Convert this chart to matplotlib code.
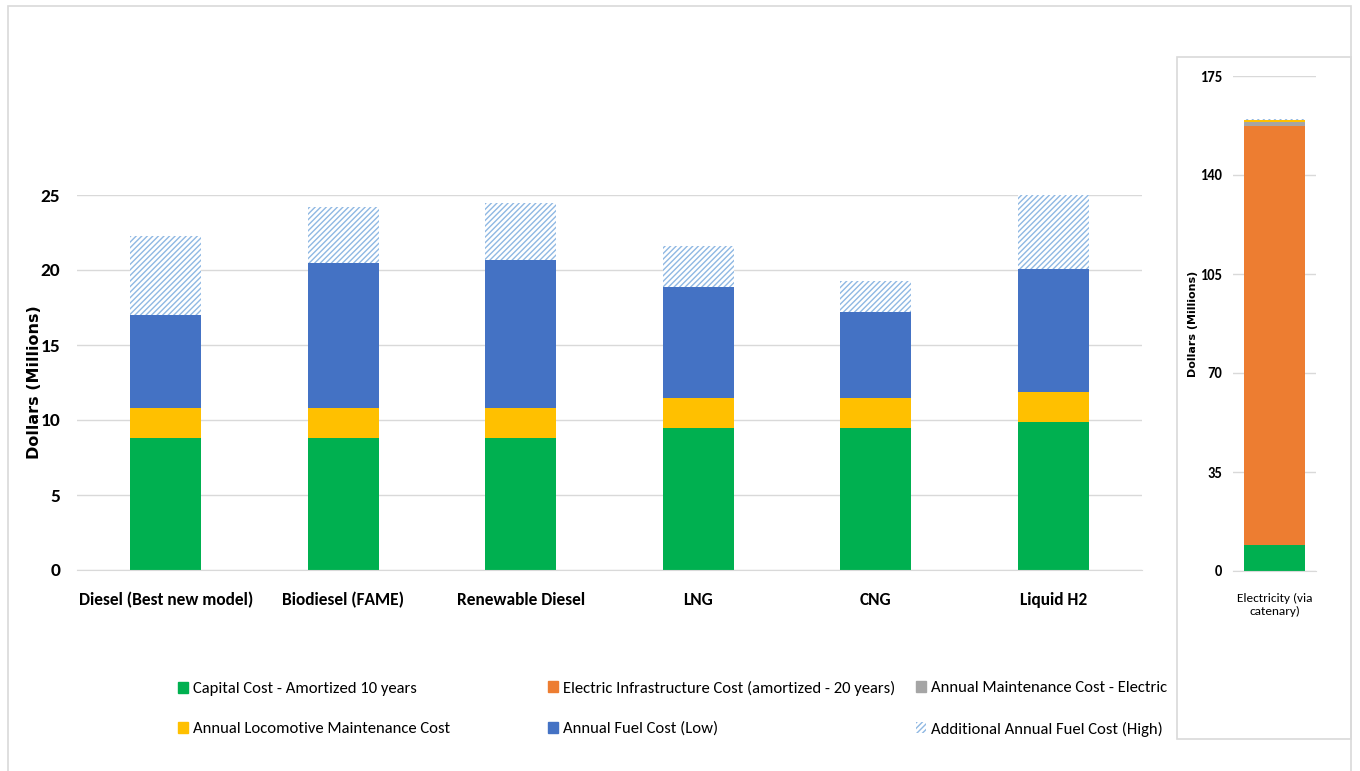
import matplotlib
matplotlib.use('agg')
import matplotlib.pyplot as plt
from matplotlib.patches import Rectangle, Patch
import numpy as np

plt.rcParams['font.family'] = ['Carlito', 'DejaVu Sans']
plt.rcParams['hatch.linewidth'] = 1.0

# technology options (last one goes on its own panel)
fuels = ['Diesel (Best new model)', 'Biodiesel (FAME)', 'Renewable Diesel',
         'LNG', 'CNG', 'Liquid H2', 'Electricity (via\ncatenary)']

# cost components, $ millions
capital = [8.8, 8.8, 8.8, 9.5, 9.5, 9.9, 9.3]
elec_infra = [0, 0, 0, 0, 0, 0, 148.1]
elec_maint = [0, 0, 0, 0, 0, 0, 1.3]
loco_maint = [2.0, 2.0, 2.0, 2.0, 2.0, 2.0, 0.8]
fuel_low = [6.2, 9.7, 9.9, 7.4, 5.7, 8.2, 0]
fuel_high_extra = [5.3, 3.7, 3.8, 2.7, 2.1, 4.9, 0.4]

main_ticks = [0, 5, 10, 15, 20, 25]
side_ticks = [0, 35, 70, 105, 140, 175]

series = [
    ('Capital Cost - Amortized 10 years', capital, dict(color='#00B050')),
    ('Electric Infrastructure Cost (amortized - 20 years)', elec_infra, dict(color='#ED7D31')),
    ('Annual Maintenance Cost - Electric', elec_maint, dict(color='#A5A5A5')),
    ('Annual Locomotive Maintenance Cost', loco_maint, dict(color='#FFC000')),
    ('Annual Fuel Cost (Low)', fuel_low, dict(color='#4472C4')),
    ('Additional Annual Fuel Cost (High)', fuel_high_extra,
     dict(facecolor='white', edgecolor='#8FB8E3', hatch='//////', linewidth=0)),
]

W, H = 1360, 771
fig = plt.figure(figsize=(W / 100, H / 100), dpi=100)

def fx(px):
    return px / W

def fy(py):
    return 1 - py / H

# chart borders
fig.patches.append(Rectangle((fx(8), fy(780)), fx(1351) - fx(8), fy(6) - fy(780),
                             transform=fig.transFigure, fill=False,
                             edgecolor='#D9D9D9', linewidth=1.2))
fig.patches.append(Rectangle((fx(1177), fy(739)), fx(1351) - fx(1177), fy(57) - fy(739),
                             transform=fig.transFigure, fill=False,
                             edgecolor='#D9D9D9', linewidth=1.2))

ax = fig.add_axes([fx(77), fy(570), fx(1142) - fx(77), fy(195) - fy(570)])
ax2 = fig.add_axes([fx(1233), fy(571), fx(1316) - fx(1233), fy(76) - fy(571)])


def stack(a, idx, width):
    x = np.arange(len(idx))
    bottom = np.zeros(len(idx))
    for name, vals, style in series:
        v = np.array([vals[i] for i in idx], dtype=float)
        a.bar(x, v, width, bottom=bottom, label=name, **style)
        bottom += v
    a.set_xticks(x)
    a.set_xticklabels([fuels[i] for i in idx])
    a.set_xlim(-0.5, len(idx) - 0.5)


stack(ax, range(6), 0.4)
stack(ax2, [6], 0.73)

for a in (ax, ax2):
    for s in ('top', 'right', 'left'):
        a.spines[s].set_visible(False)
    a.spines['bottom'].set_color('#D9D9D9')
    a.grid(axis='y', color='#D9D9D9', linewidth=1)
    a.set_axisbelow(True)
    a.tick_params(length=0)

ax.set_ylim(0, 25)
ax.set_yticks(main_ticks)
ax.tick_params(axis='y', pad=12, labelsize=14)
ax.tick_params(axis='x', pad=16, labelsize=12.5)
for t in ax.get_yticklabels() + ax.get_xticklabels():
    t.set_fontweight('bold')
ax.set_ylabel('Dollars (Millions)', fontsize=11.5, fontweight='bold',
              family='DejaVu Sans', labelpad=-1)

ax2.set_ylim(0, 175)
ax2.set_yticks(side_ticks)
ax2.tick_params(axis='y', pad=8, labelsize=10.5)
ax2.tick_params(axis='x', pad=16, labelsize=9.5)
for t in ax2.get_yticklabels():
    t.set_fontweight('bold')
ax2.set_ylabel('Dollars (Millions)', fontsize=8, fontweight='bold',
               family='DejaVu Sans', labelpad=1)

# legend: one entry per slot, three columns by two rows
handles = [Patch(label=name, **style) for name, vals, style in series]
slots = [(0, 178, 689), (3, 178, 729),
         (1, 548, 688), (4, 548, 729),
         (2, 916, 688), (5, 916, 729)]
for k, hx, hy in slots:
    fig.legend(handles=[handles[k]], loc='center left',
               bbox_to_anchor=(fx(hx), fy(hy)), frameon=False,
               fontsize=12, handlelength=0.6, handleheight=0.6,
               handletextpad=0.3, borderpad=0, borderaxespad=0)

fig.savefig('out.png', dpi=100)
